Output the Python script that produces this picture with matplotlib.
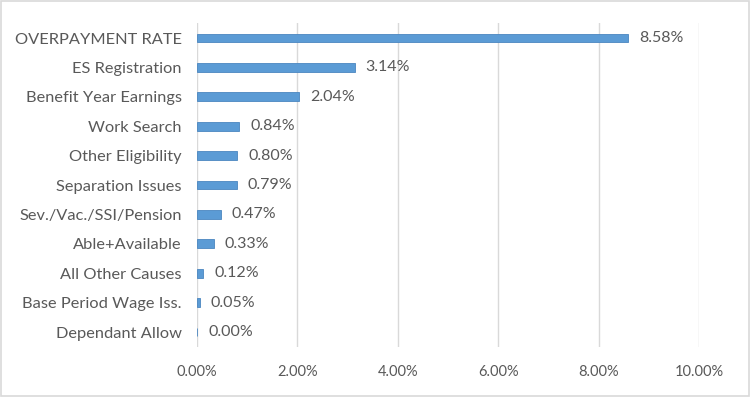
import matplotlib.pyplot as plt
from matplotlib.patches import Rectangle
from matplotlib.ticker import FuncFormatter

## Overpayment causes (percent), top to bottom
causes = [
    "OVERPAYMENT RATE",
    "ES Registration",
    "Benefit Year Earnings",
    "Work Search",
    "Other Eligibility",
    "Separation Issues",
    "Sev./Vac./SSI/Pension",
    "Able+Available",
    "All Other Causes",
    "Base Period Wage Iss.",
    "Dependant Allow",
]
rates = [8.58, 3.14, 2.04, 0.84, 0.80, 0.79, 0.47, 0.33, 0.12, 0.05, 0.00]
x_ticks = [0, 2, 4, 6, 8, 10]

text_color = "#595959"
bar_color = "#5B9BD5"
grid_color = "#D9D9D9"

plt.rcParams['font.family'] = ['Lato', 'DejaVu Sans']

fig = plt.figure(figsize=(7.5, 3.97), dpi=100)
ax = fig.add_axes([0.2627, 0.1267, 0.6693, 0.8146])

pos = list(range(len(causes)))
ax.barh(pos, rates, height=0.3, color=bar_color, edgecolor="#4A86C0", linewidth=0.6, zorder=3)

for p, r in zip(pos, rates):
    ax.annotate(f"{r:.2f}%", (r, p), xytext=(8, 0), textcoords="offset points",
                va="center", ha="left", fontsize=11.5, color=text_color)

ax.set_xlim(0, 10)
ax.set_ylim(len(causes) - 0.5, -0.5)
ax.set_xticks(x_ticks)
ax.xaxis.set_major_formatter(FuncFormatter(lambda v, _: f"{v:.2f}%"))
ax.set_yticks(pos)
ax.set_yticklabels(causes)

ax.tick_params(axis='y', length=0, pad=11, labelsize=11.8, labelcolor=text_color)
ax.tick_params(axis='x', length=0, pad=13, labelsize=10.5, labelcolor=text_color)
ax.grid(axis='x', color=grid_color, linewidth=1, zorder=0)
for s in ax.spines.values():
    s.set_visible(False)

# light border around the whole chart
fig.patches.append(Rectangle((0.001, 0.002), 0.997, 0.995, transform=fig.transFigure,
                             fill=False, edgecolor=grid_color, linewidth=1.2))

fig.savefig("out.png", dpi=100)
